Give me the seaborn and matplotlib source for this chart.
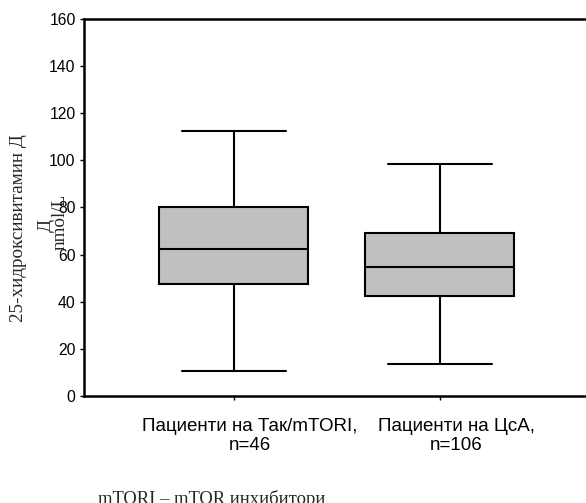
import numpy as np
import pandas as pd
import matplotlib
matplotlib.use("Agg")
import matplotlib.pyplot as plt
import matplotlib.transforms as mtransforms
import seaborn as sns

# Data (five-number summaries)
groups = ["Пациенти на Так/mTORI,\nn=46", "Пациенти на ЦсА,\nn=106"]
mins = [10.7, 13.6]
q1s = [47.5, 42.4]
medians = [62.5, 54.9]
q3s = [80.0, 69.0]
maxs = [112.6, 98.5]
yticks = [0, 20, 40, 60, 80, 100, 120, 140, 160]

rows = []
for g, a, b, c, d, e in zip(groups, mins, q1s, medians, q3s, maxs):
    for v in (a, b, c, d, e):
        rows.append({"group": g, "value": v})
df = pd.DataFrame(rows)

sns.set_style("ticks")
plt.rcParams["font.family"] = ["Liberation Sans", "DejaVu Sans"]

fig = plt.figure(figsize=(5.86, 5.03), dpi=100)
ax = fig.add_axes([84 / 586, (503 - 396) / 503, (586 - 84) / 586, (396 - 19) / 503])

sns.boxplot(data=df, x="group", y="value", order=groups, color="#c0c0c0",
            linecolor="black", linewidth=1.5, width=0.723, whis=(0, 100),
            saturation=1, showfliers=False, ax=ax)

# cap widths
for line in ax.lines:
    xd = np.asarray(line.get_xdata(), dtype=float)
    yd = np.asarray(line.get_ydata(), dtype=float)
    if len(xd) == 2 and yd[0] == yd[1] and (yd[0] in mins or yd[0] in maxs):
        cx = xd.mean()
        line.set_xdata([cx - 0.2525, cx + 0.2525])

ax.set_ylim(0, 160)
ax.set_xlim(-0.728, 1.709)
ax.set_yticks(yticks)
ax.set_yticklabels([str(t) for t in yticks], fontsize=11.3)
ax.set_xticks([0, 1])
ax.set_xticklabels(groups, fontsize=13.5, linespacing=1.15)
ax.set_xlabel("")
ax.set_ylabel("")
for s in ["left", "top", "bottom"]:
    ax.spines[s].set_linewidth(1.8)
    ax.spines[s].set_color("black")
ax.spines["right"].set_visible(False)
ax.tick_params(axis="y", length=3, width=1, pad=3, colors="black")
ax.tick_params(axis="x", length=3, width=1, pad=13, colors="black")

offset = mtransforms.ScaledTranslation(16 / 100, 0, fig.dpi_scale_trans)
for lbl in ax.get_xticklabels():
    lbl.set_transform(lbl.get_transform() + offset)

serif = ["Liberation Serif", "DejaVu Serif"]
fig.text(19 / 586, 1 - 228 / 503, "25-хидроксивитамин Д", rotation=90,
         ha="center", va="center", fontsize=13.8, family=serif)
fig.text(46 / 586, 1 - 226 / 503, "Д", rotation=90,
         ha="center", va="center", fontsize=13.8, family=serif)
fig.text(60 / 586, 1 - 222 / 503, "nmol/L", rotation=90,
         ha="center", va="center", fontsize=13.8, family=serif)
fig.text(98 / 586, 1 - 490 / 503, "mTORI – mTOR инхибитори",
         ha="left", va="top", fontsize=13.4, family=serif)

fig.savefig("out.png", dpi=100)
